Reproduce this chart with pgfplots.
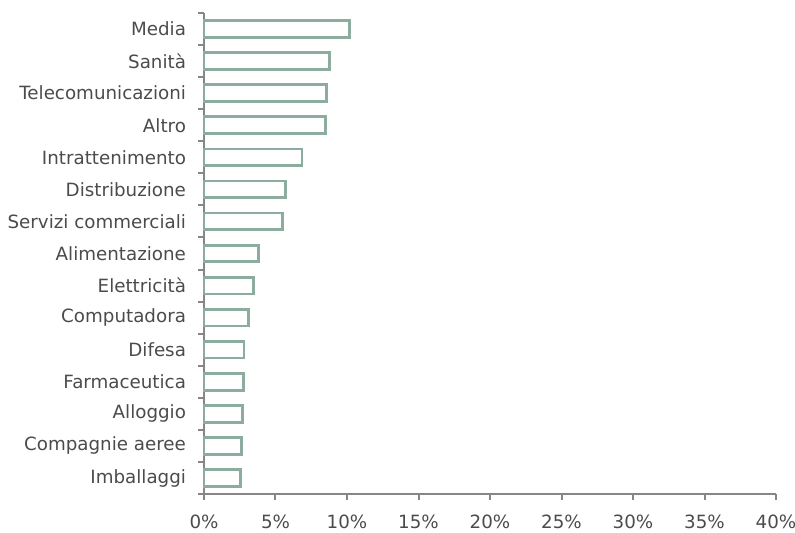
\documentclass[border=0pt]{standalone}
\usepackage{pgfplots}
\pgfplotsset{compat=1.18}
\usepackage{fontspec}
\setmainfont{DejaVu Sans}
\definecolor{barc}{RGB}{140,172,158}
\definecolor{axc}{RGB}{134,134,134}
\definecolor{txt}{RGB}{75,75,75}
\begin{document}
\begin{tikzpicture}
\begin{axis}[
  scale only axis, width=429pt, height=360.75pt,
  xmin=0, xmax=40, ymin=-0.5, ymax=14.5,
  xbar, bar width=0.52,
  axis x line*=bottom, axis y line*=left,
  axis line style={axc, line width=1.8pt},
  tick style={axc, line width=1.5pt},
  xtick={0,5,...,40},
  xticklabel={\pgfmathprintnumber{\tick}\%},
  /pgf/number format/assume math mode=true,
  ytick={0,...,14},
  yticklabels={Imballaggi, Compagnie aeree, Alloggio, Farmaceutica, Difesa, Computadora, Elettricità, Alimentazione, Servizi commerciali, Distribuzione, Intrattenimento, Altro, Telecomunicazioni, Sanità, Media},
  minor ytick={-0.5,0.5,...,14.5},
  tick align=outside,
  major tick length=4.5pt, minor tick length=4.5pt,
  major y tick style={draw=none},
  ticklabel style={font=\fontsize{13.7}{16}\selectfont, text=txt},
  xticklabel style={yshift=-8pt},
  yticklabel style={xshift=-5.5pt},
  clip=false,
]
\addplot[draw=barc, fill=white, line width=2.1pt] coordinates {
(2.57,0) (2.65,1) (2.72,2) (2.77,3) (2.80,4) (3.10,5) (3.45,6) (3.80,7) (5.50,8) (5.70,9) (6.85,10) (8.50,11) (8.55,12) (8.75,13) (10.20,14)};
\end{axis}
\pgfresetboundingbox
\path ([xshift=-153pt,yshift=9.75pt]current axis.north west) rectangle ([xshift=14.25pt,yshift=-28.5pt]current axis.south east);
\end{tikzpicture}
\end{document}
